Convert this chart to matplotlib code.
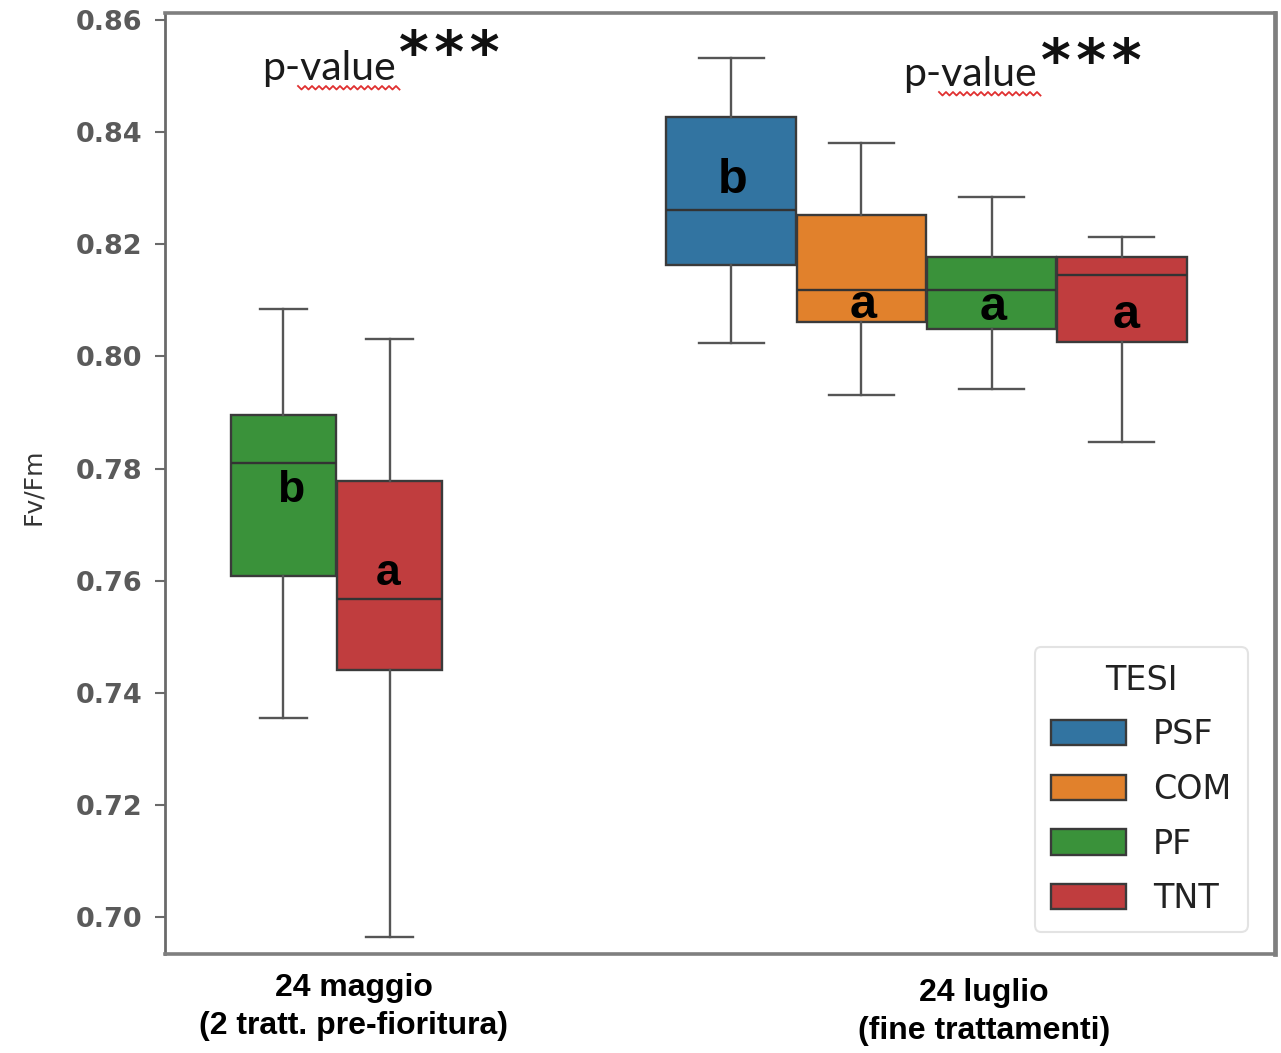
import numpy as np
import matplotlib
matplotlib.use("Agg")
import matplotlib.pyplot as plt
from matplotlib.patches import Patch
from matplotlib.lines import Line2D

# --- data ---
date_labels = ["24 maggio\n(2 tratt. pre-fioritura)", "24 luglio\n(fine trattamenti)"]
tesi = ["PSF", "COM", "PF", "TNT"]
tesi_colors = ["#3274a1", "#e1812c", "#3a923a", "#c03d3e"]

# 24 maggio: only PF and TNT
may_tesi = ["PF", "TNT"]
may_whislo = [0.7355, 0.6964]
may_q1 = [0.7608, 0.7441]
may_med = [0.7810, 0.7567]
may_q3 = [0.7895, 0.7778]
may_whishi = [0.8084, 0.8031]
may_letters = ["b", "a"]
may_letter_y = [0.7740, 0.7592]

# 24 luglio: all four
jul_tesi = ["PSF", "COM", "PF", "TNT"]
jul_whislo = [0.8024, 0.7931, 0.7942, 0.7847]
jul_q1 = [0.8163, 0.8061, 0.8049, 0.8026]
jul_med = [0.8261, 0.8118, 0.8118, 0.8145]
jul_q3 = [0.8427, 0.8252, 0.8177, 0.8177]
jul_whishi = [0.8532, 0.8381, 0.8284, 0.8213]
jul_letters = ["b", "a", "a", "a"]
jul_letter_y = [0.8291, 0.8069, 0.8065, 0.8051]

W, H = 1281, 1053


def px(x, y):
    return x / W, 1 - y / H


fig = plt.figure(figsize=(12.81, 10.53), dpi=100)
ax = fig.add_axes([165 / W, 1 - 954 / H, (1275 - 165) / W, (954 - 13) / H])

edge = "#3a3a3a"


def draw_group(center, width, names, lo, q1, med, q3, hi, letters, ly, fs, capw, dx):
    n = len(names)
    pos = center + (np.arange(n) - (n - 1) / 2) * width
    stats = []
    for i in range(n):
        stats.append(dict(whislo=lo[i], q1=q1[i], med=med[i], q3=q3[i],
                          whishi=hi[i], fliers=[]))
    bp = ax.bxp(stats, positions=pos, widths=width * 0.995, patch_artist=True,
                showfliers=False, capwidths=width * capw,
                boxprops=dict(edgecolor=edge, linewidth=1.7),
                whiskerprops=dict(color="#555555", linewidth=1.7),
                capprops=dict(color="#555555", linewidth=1.7),
                medianprops=dict(color="#333333", linewidth=1.7))
    for box, name in zip(bp["boxes"], names):
        box.set_facecolor(tesi_colors[tesi.index(name)])
    # significance letters
    for i in range(n):
        ax.text(pos[i] + dx[i], ly[i], letters[i], ha="center", va="baseline",
                fontsize=fs, fontweight="bold", family="Liberation Sans",
                color="black")


draw_group(0.0, 0.1797, may_tesi, may_whislo, may_q1, may_med, may_q3,
           may_whishi, may_letters, may_letter_y, 32, 0.45, [0.012, -0.003])
draw_group(1.0, 0.2208, jul_tesi, jul_whislo, jul_q1, jul_med, jul_q3,
           jul_whishi, jul_letters, jul_letter_y, 35, 0.5, [0.003, 0.003, 0.002, 0.008])

ax.set_xlim(-0.2907, 1.5907)
ax.set_ylim(0.6934, 0.86125)
ax.set_xticks([])
yt = np.arange(0.70, 0.861, 0.02)
ax.set_yticks(yt)
ax.set_yticklabels(["%.2f" % v for v in yt], family="DejaVu Sans",
                   fontweight="bold", fontsize=19.5, color="#5a5a5a")
ax.tick_params(axis="y", length=7.5, width=1.5, color="#6a6a6a", pad=9)
for s in ax.spines.values():
    s.set_color("#7f7f7f")
    s.set_linewidth(2.6)
ax.spines["left"].set_color("#6a6a6a")
ax.spines["left"].set_linewidth(2.0)
ax.spines["right"].set_linewidth(3.4)

fig.text(*px(33, 487), "Fv/Fm", rotation=90, ha="center", va="center",
         fontsize=18, color="#333333", family="DejaVu Sans")

# p-value annotations
for (xp, yb, xs, ys) in [(262, 80, 399, 72), (903, 86, 1041, 80)]:
    fig.text(*px(xp, yb), "p-value", ha="left", va="baseline",
             fontsize=29.5, family="Lato", color="#1a1a1a")
    fig.text(*px(xs, ys), "*\u200a*\u200a*", ha="left", va="baseline",
             fontsize=41, family="DejaVu Sans", fontweight="bold",
             color="#111111")
    zx = np.arange(xp + 36, xp + 140, 3.5)
    zy = yb + 6 + (np.arange(len(zx)) % 2) * 3.5
    fig.add_artist(Line2D(zx / W, 1 - zy / H, color="#e03030", lw=1.3,
                          transform=fig.transFigure))

# date labels below the axes
fig.text(*px(354, 1007), date_labels[0], ha="center", va="center",
         fontsize=23, fontweight="bold", family="Liberation Sans",
         linespacing=1.32)
fig.text(*px(984, 1012), date_labels[1], ha="center", va="center",
         fontsize=23, fontweight="bold", family="Liberation Sans",
         linespacing=1.32)

handles = [Patch(facecolor=c, edgecolor=edge, linewidth=1.7) for c in tesi_colors]
leg = ax.legend(handles, tesi, title="TESI", loc="lower right",
                bbox_to_anchor=(0.9757, 0.0234), borderaxespad=0,
                handlelength=2.25, handleheight=0.8, handletextpad=0.8,
                labelspacing=0.65, borderpad=0.5, frameon=True, fancybox=True,
                prop=dict(family="DejaVu Sans", size=24), title_fontsize=24)
leg.get_frame().set_edgecolor("#dddddd")
leg.get_frame().set_linewidth(1.5)
leg.get_title().set_color("#222222")
for t in leg.get_texts():
    t.set_color("#222222")

fig.savefig("out.png", dpi=100)
